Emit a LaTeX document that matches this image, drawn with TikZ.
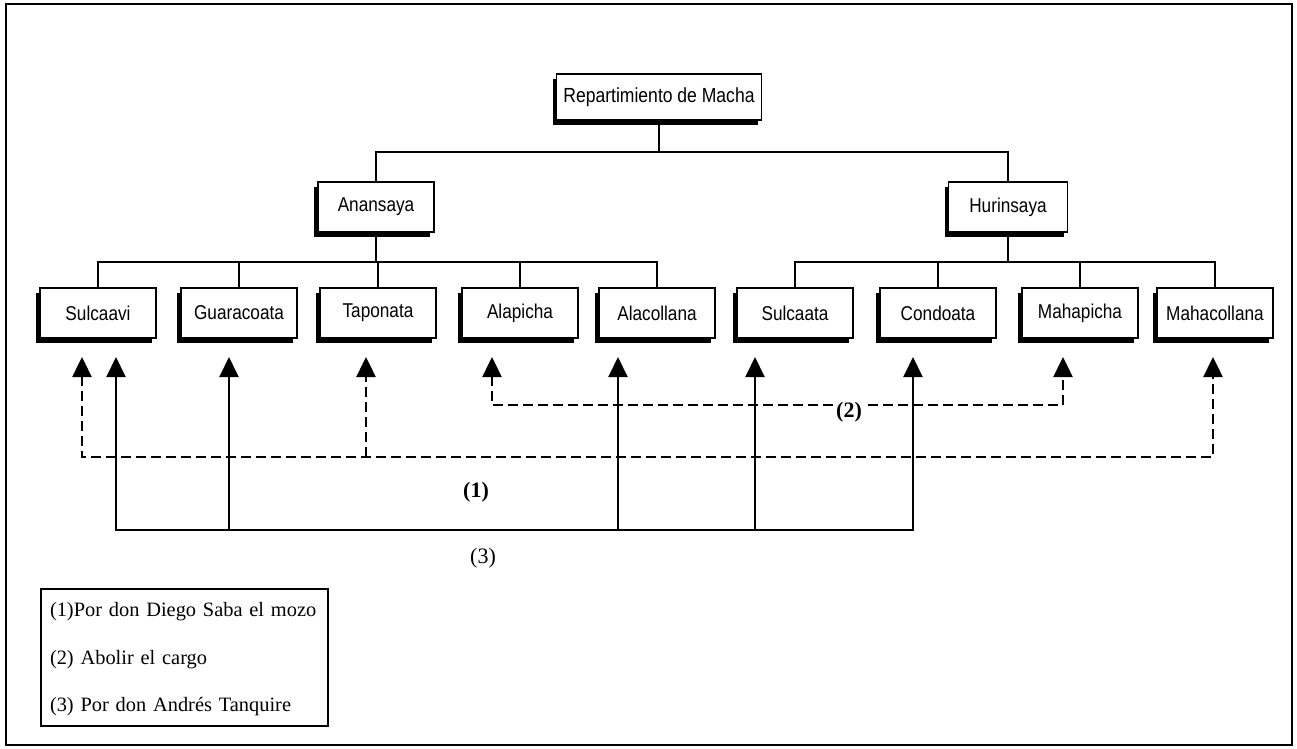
\documentclass[tikz,border=0pt]{standalone}
\usepackage{fontspec}
\setmainfont{Liberation Serif}
\newfontfamily\boxfont[FakeStretch=0.86]{Liberation Sans}
\usetikzlibrary{arrows.meta,shadows}
\begin{document}
\begin{tikzpicture}[x=0.5pt,y=-0.5pt,
  orgbox/.style={draw, line width=0.6pt, fill=white, minimum width=58pt, minimum height=25pt, inner sep=0pt,
    font=\boxfont\fontsize{10}{12}\selectfont,
    drop shadow={shadow xshift=-2pt, shadow yshift=-2.5pt, fill=black, opacity=1}},
  tree/.style={line width=0.9pt},
  tipstyle/.style={-{Triangle[width=9.5pt,length=10pt]}},
  bothtips/.style={{Triangle[width=9.5pt,length=10pt]}-{Triangle[width=9.5pt,length=10pt]}},
  solidline/.style={line width=1pt},
  dashline/.style={line width=1.2pt, dash pattern=on 5pt off 2.5pt},
  boldlabel/.style={font=\bfseries\fontsize{11}{13}\selectfont, inner sep=0.5pt},
]
\useasboundingbox (0,0) rectangle (1297,749);
\draw[line width=1pt] (6,4) rectangle (1292,745);

% org chart nodes
\node[orgbox, minimum width=102.5pt, minimum height=23pt, font=\boxfont\fontsize{10.2}{12}\selectfont] (root) at (659,97) {Repartimiento de Macha};
\node[orgbox] (ana) at (376,207) {Anansaya};
\node[orgbox, minimum width=59.5pt] (hur) at (1008,207) {Hurinsaya};

\node[orgbox] (c1) at (98,313) {Sulcaavi};
\node[orgbox] (c2) at (239,313) {Guaracoata};
\node[orgbox] (c3) at (378,313) {Taponata};
\node[orgbox] (c4) at (520,313) {Alapicha};
\node[orgbox] (c5) at (657,313) {Alacollana};
\node[orgbox] (c6) at (795,313) {Sulcaata};
\node[orgbox] (c7) at (938,313) {Condoata};
\node[orgbox] (c8) at (1080,313) {Mahapicha};
\node[orgbox] (c9) at (1215,313) {Mahacollana};

% tree connectors
\coordinate (bus0) at (659,152);
\coordinate (busA) at (376,262);
\coordinate (busH) at (1008,262);
\draw[tree] (root.south) -- (bus0);
\draw[tree] (ana.north) |- (bus0) -| (hur.north);
\draw[tree] (ana.south) -- (busA);
\draw[tree] (c1.north) |- (c5.north |- busA) -- (c5.north);
\foreach \c in {c2,c3,c4} \draw[tree] (\c.north) -- (\c.north |- busA);
\draw[tree] (hur.south) -- (busH);
\draw[tree] (c6.north) |- (c9.north |- busH) -- (c9.north);
\foreach \c in {c7,c8} \draw[tree] (\c.north) -- (\c.north |- busH);

% arrow tips
\coordinate (t1a) at (82,357);
\coordinate (t1b) at (366,357);
\coordinate (t1c) at (1213,357);
\coordinate (t2a) at (492,357);
\coordinate (t2b) at (1063,357);
\coordinate (t3a) at (116,357);
\coordinate (t3b) at (229,357);
\coordinate (t3c) at (618,357);
\coordinate (t3d) at (755,357);
\coordinate (t3e) at (913,357);
\coordinate (h1) at (0,457);
\coordinate (h2) at (0,405);
\coordinate (h3) at (0,530);

% (2) dashed
\draw[dashline, bothtips] (t2a) -- (t2a |- h2) -- (t2b |- h2) -- (t2b);
% (1) dashed
\draw[dashline, bothtips] (t1a) -- (t1a |- h1) -- (t1c |- h1) -- (t1c);
\draw[dashline, tipstyle] (t1b |- h1) -- (t1b);
% (3) solid
\draw[solidline, bothtips] (t3a) -- (t3a |- h3) -- (t3e |- h3) -- (t3e);
\foreach \t in {t3b,t3c,t3d} \draw[solidline, tipstyle] (\t |- h3) -- (\t);

% labels
\node[boldlabel] (l1) at (476,492) {(1)};
\node[boldlabel, fill=white] (l2) at (849,412) {(2)};
\node[font=\fontsize{11}{13}\selectfont] (l3) at (483,558) {(3)};

% legend
\node[draw, line width=1pt, anchor=north west, minimum width=143.5pt, minimum height=68.5pt,
  text width=134.5pt, inner xsep=4.5pt, align=left, font=\fontsize{10.2}{23.75}\selectfont] (legend) at (40,588)
  {\rule{0pt}{9pt}(1)Por don Diego Saba el mozo\\(2) Abolir el cargo\\(3) Por don Andrés Tanquire};
\end{tikzpicture}
\end{document}
